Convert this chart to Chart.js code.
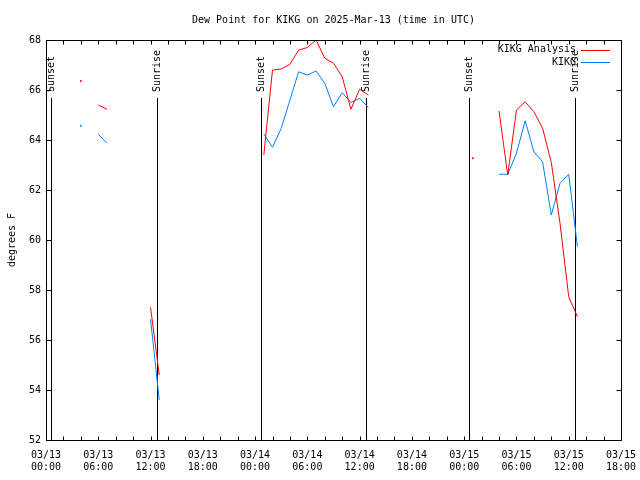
<!DOCTYPE html>
<html><head><meta charset="utf-8">
<script src="https://cdn.jsdelivr.net/npm/chart.js@4.4.1/dist/chart.umd.min.js"></script>
<style>html,body{margin:0;padding:0;background:#fff}#wrap{width:640px;height:480px}</style>
</head><body><div id="wrap"><canvas id="c" width="640" height="480"></canvas></div>
<script>
const titleText = 'Dew Point for KIKG on 2025-Mar-13 (time in UTC)';
const yAxisTitle = 'degrees F';
const seriesNames = ['KIKG Analysis', 'KIKG'];

// x axis: hours since 03/13 00:00 UTC
const labelHours = [0, 6, 12, 18, 24, 30, 36, 42, 48, 54, 60, 66];
const dateLabels = ['03/13','03/13','03/13','03/13','03/14','03/14','03/14','03/14','03/15','03/15','03/15','03/15'];
const timeLabels = ['00:00','06:00','12:00','18:00','00:00','06:00','12:00','18:00','00:00','06:00','12:00','18:00'];

// Analysis (red) – null marks a gap
const analysisHours  = [4, 5, 6, 7, 8, 12, 13, 14,
  25, 26, 27, 28, 29, 30, 31, 32, 33, 34, 35, 36, 37, 38,
  49, 50, 52, 53, 54, 55, 56, 57, 58, 59, 60, 61];
const analysisValues = [66.36, null, 65.4, 65.23, null, 57.31, 54.6, null,
  63.4, 66.8, 66.84, 67.03, 67.6, 67.7, 68.0, 67.27, 67.07, 66.53, 65.23, 66.03, 65.8, null,
  63.27, null, 65.16, 62.6, 65.2, 65.53, 65.13, 64.47, 63.1, 60.67, 57.73, 56.93];

// Observations (blue)
const obsHours  = [4, 5, 6, 7, 8, 12, 13, 14,
  25, 26, 27, 28, 29, 30, 31, 32, 33, 34, 35, 36, 37, 38,
  52, 53, 54, 55, 56, 57, 58, 59, 60, 61];
const obsValues = [64.57, null, 64.23, 63.87, null, 56.83, 53.6, null,
  64.24, 63.71, 64.47, 65.6, 66.73, 66.6, 66.76, 66.27, 65.33, 65.89, 65.5, 65.67, 65.3, null,
  62.63, 62.63, 63.47, 64.77, 63.53, 63.13, 61.0, 62.27, 62.63, 59.73];

// Sunset / sunrise times (hours since 03/13 00:00 UTC)
const sunHours  = [0.6, 12.75, 24.65, 36.7, 48.55, 60.67];
const sunLabels = ['Sunset', 'Sunrise', 'Sunset', 'Sunrise', 'Sunset', 'Sunrise'];

const FONT = 'DejaVu Sans Mono';

function toPoints(hs, vs){ return hs.map((h,i)=>({x:h, y:vs[i]})); }
function isolatedRadius(ctx){
  const d = ctx.dataset.data, i = ctx.dataIndex;
  if (!d[i] || d[i].y === null) return 0;
  const prev = i>0 ? d[i-1].y : null, next = i<d.length-1 ? d[i+1].y : null;
  return (prev === null && next === null) ? 1 : 0;
}

const overlay = {
  id: 'overlay',
  beforeDatasetsDraw(chart){
    const {ctx, chartArea:a, scales:{x}} = chart;
    ctx.save();
    ctx.strokeStyle = '#000'; ctx.lineWidth = 1;
    ctx.fillStyle = '#000';
    ctx.font = '10px "' + FONT + '"';
    sunHours.forEach((h,i)=>{
      const px = Math.round(x.getPixelForValue(h)) + 0.5;
      ctx.beginPath(); ctx.moveTo(px, 98); ctx.lineTo(px, a.bottom); ctx.stroke();
      ctx.save();
      ctx.translate(px, 92); ctx.rotate(-Math.PI/2);
      ctx.textAlign = 'left'; ctx.textBaseline = 'middle';
      ctx.fillText(sunLabels[i], 0, 0);
      ctx.restore();
    });
    ctx.restore();
  },
  afterDraw(chart){
    const {ctx, chartArea:a, scales:{x, y}} = chart;
    ctx.save();
    ctx.strokeStyle = '#000'; ctx.lineWidth = 1;
    const L = Math.round(a.left)+0.5, R = Math.round(a.right)+0.5, T = Math.round(a.top)+0.5, B = Math.round(a.bottom)+0.5;
    ctx.beginPath();
    ctx.moveTo(L,T); ctx.lineTo(R,T); ctx.lineTo(R,B); ctx.lineTo(L,B); ctx.closePath();
    for (let h = x.min; h <= x.max; h += 2){
      const px = Math.round(x.getPixelForValue(h)) + 0.5;
      ctx.moveTo(px, B); ctx.lineTo(px, B-4);
      ctx.moveTo(px, T); ctx.lineTo(px, T+4);
    }
    y.ticks.forEach(t=>{
      const py = Math.round(y.getPixelForValue(t.value)) + 0.5;
      ctx.moveTo(L, py); ctx.lineTo(L+5, py);
      ctx.moveTo(R, py); ctx.lineTo(R-5, py);
    });
    ctx.stroke();
    // legend
    ctx.font = '10px "' + FONT + '"';
    ctx.textAlign = 'right'; ctx.textBaseline = 'middle'; ctx.fillStyle = '#000';
    const rows = [49.5, 62];
    chart.data.datasets.forEach((ds,i)=>{
      ctx.fillText(ds.label, 576, rows[i]);
      ctx.strokeStyle = ds.borderColor;
      ctx.beginPath(); ctx.moveTo(581, Math.round(rows[i])+0.5); ctx.lineTo(610, Math.round(rows[i])+0.5); ctx.stroke();
    });
    ctx.restore();
  }
};

new Chart(document.getElementById('c'), {
  type: 'line',
  data: {
    datasets: [
      { label: seriesNames[0], data: toPoints(analysisHours, analysisValues), borderColor: '#ff0000', backgroundColor: '#ff0000', borderWidth: 1, pointRadius: isolatedRadius, pointBorderWidth: 0, spanGaps: false, tension: 0 },
      { label: seriesNames[1], data: toPoints(obsHours, obsValues), borderColor: '#0080ff', backgroundColor: '#0080ff', borderWidth: 1, pointRadius: isolatedRadius, pointBorderWidth: 0, spanGaps: false, tension: 0 }
    ]
  },
  options: {
    responsive: false, animation: false, devicePixelRatio: 1,
    layout: { padding: { left: 0, right: 19, top: 0, bottom: 0 } },
    plugins: {
      legend: { display: false },
      tooltip: { enabled: false },
      title: { display: true, text: titleText, fullSize: false, color: '#000',
        font: { family: FONT, size: 10, weight: 'normal', lineHeight: 1.2 },
        padding: { top: 14, bottom: 14 } }
    },
    scales: {
      x: {
        type: 'linear', min: 0, max: 66,
        grid: { display: false, drawTicks: false }, border: { display: false },
        afterFit: s => { s.height = 40; s.paddingLeft = 0; s.paddingRight = 0; },
        ticks: { stepSize: 6, autoSkip: false, maxRotation: 0, minRotation: 0, padding: 9, color: '#000',
          font: { family: FONT, size: 10, lineHeight: 1.2 },
          callback: v => { const i = labelHours.indexOf(v); return i < 0 ? '' : [dateLabels[i], timeLabels[i]]; } }
      },
      y: {
        min: 52, max: 68,
        grid: { display: false, drawTicks: false }, border: { display: false },
        afterFit: s => { s.width = 46; s.paddingTop = 0; s.paddingBottom = 0; },
        ticks: { stepSize: 2, padding: 5, color: '#000', font: { family: FONT, size: 10 } },
        title: { display: true, text: yAxisTitle, color: '#000', font: { family: FONT, size: 10 }, padding: { top: 6, bottom: 0 } }
      }
    }
  },
  plugins: [overlay]
});
</script>
</body></html>
